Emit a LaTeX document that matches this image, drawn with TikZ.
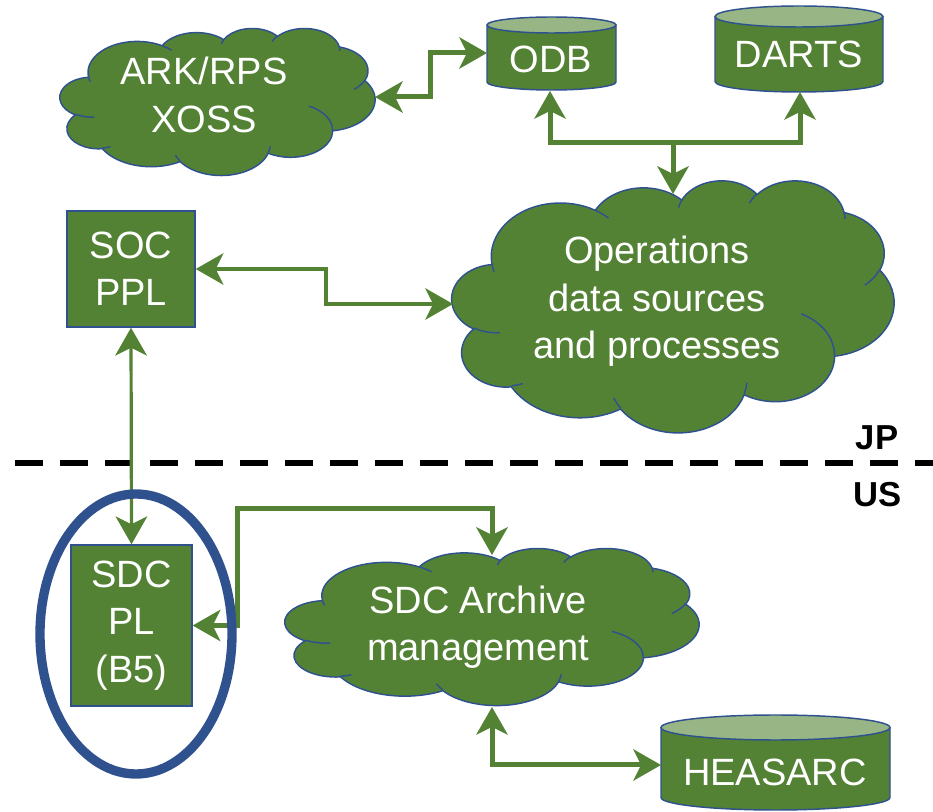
\documentclass[tikz,border=0pt]{standalone}
\usepackage{fontspec}
\setmainfont{Liberation Sans}
\usetikzlibrary{arrows.meta}

\definecolor{pgreen}{RGB}{84,130,53}
\definecolor{plight}{RGB}{152,181,133}
\definecolor{pblue}{RGB}{47,82,143}

\tikzset{
  outl/.style={draw=pblue, line width=1.1pt},
  conn/.style={draw=pgreen, line width=3.75pt,
    >={Stealth[length=21pt,width=24pt,inset=6pt,line width=0pt]}},
  thinconn/.style={conn, line width=2.4pt},
  txt/.style={text=white, font=\fontsize{28.5}{35.5}\selectfont, align=center, inner sep=0pt},
  boxnode/.style={outl, fill=pgreen, text=white, font=\fontsize{28.5}{35.5}\selectfont, align=center, inner sep=0pt},
  region/.style={font=\bfseries\fontsize{26}{30}\selectfont, inner sep=0pt},
}

% PowerPoint-like cloud: x y w h (px, top-left corner)
\newcommand\pptcloud[4]{%
  \pgfmathsetmacro\pcx{#3*0.75/432}%
  \pgfmathsetmacro\pcy{#4*0.75/432}%
  \begin{scope}[shift={(#1,#2)},x={(\pcx pt,0pt)},y={(0pt,-\pcy pt)}]
    \path[outl, fill=pgreen] (39.00,143.70)
      arc[start angle=-187.745, end angle=-59.636, x radius=67.53, y radius=91.90]
      arc[start angle=-152.024, end angle=-45.453, x radius=53.33, y radius=72.67]
      arc[start angle=-153.485, end angle=-37.329, x radius=43.65, y radius=59.45]
      arc[start angle=-139.715, end angle=-10.212, x radius=48.57, y radius=65.95]
      arc[start angle=-74.768, end angle=23.213, x radius=53.33, y radius=72.73]
      arc[start angle=-37.528, end angle=81.863, x radius=67.75, y radius=92.20]
      arc[start angle=0.460, end angle=121.976, x radius=57.85, y radius=78.67]
      arc[start angle=16.845, end angle=146.248, x radius=67.52, y radius=92.15]
      arc[start angle=58.984, end angle=150.203, x radius=77.20, y radius=105.43]
      arc[start angle=-276.694, end angle=-136.872, x radius=43.60, y radius=59.18]
      arc[start angle=-239.648, end angle=-95.887, x radius=43.45, y radius=59.45]
      -- cycle;
    \draw[outl]
      (46.93,261.77) arc[start angle=85.547, end angle=120.352, x radius=43.45, y radius=59.45]
      (69.28,348.99) arc[start angle=68.236, end angle=83.306, x radius=43.60, y radius=59.18]
      (164.78,390.90) arc[start angle=146.248, end angle=158.473, x radius=67.52, y radius=92.15]
      (288.27,347.51) arc[start angle=4.738, end angle=16.845, x radius=67.52, y radius=92.15]
      (341.29,229.54) arc[start angle=-64.028, end angle=0.460, x radius=57.85, y radius=78.67]
      (417.98,153.54) arc[start angle=23.213, end angle=49.650, x radius=53.33, y radius=72.73]
      (383.24,54.26) arc[start angle=-10.212, end angle=0.821, x radius=48.57, y radius=65.95]
      (290.78,39.52) arc[start angle=-156.286, end angle=-139.715, x radius=48.57, y radius=65.95]
      (221.41,47.20) arc[start angle=-167.726, end angle=-153.485, x radius=43.65, y radius=59.45]
      (140.00,51.92) arc[start angle=-59.636, end angle=-45.733, x radius=67.53, y radius=91.90]
      (41.27,157.89) arc[start angle=163.193, end angle=172.255, x radius=67.53, y radius=91.90];
  \end{scope}}

% cylinder: x1 y1 x2 y2 ry (px)
\newcommand\pptcyl[5]{%
  \pgfmathsetmacro\cylrx{(#3-#1)/2}%
  \pgfmathsetmacro\cylcx{(#3+#1)/2}%
  \path[outl, fill=pgreen] (#1,#2+#5) -- (#1,#4-#5)
    arc[start angle=180, end angle=0, x radius=\cylrx, y radius=#5] -- (#3,#2+#5);
  \path[outl, fill=plight] (\cylcx,#2+#5) ellipse [x radius=\cylrx, y radius=#5];
}

\begin{document}
\begin{tikzpicture}[x=0.75pt, y=-0.75pt]
\useasboundingbox (0,0) rectangle (933,812);

% ---- shapes ----
\pptcloud{60}{28}{315}{147}
\pptcloud{452}{180}{442}{252}
\pptcloud{285}{548}{414}{157}
\pptcyl{487}{17}{616}{90}{8}
\pptcyl{715}{6}{883}{92}{10.5}
\pptcyl{661}{715}{890}{810}{12.5}

% ---- text / nodes ----
\node[txt] (ark) at (204,95) {ARK/RPS\\XOSS};
\node[txt] (ops) at (657,301.5) {Operations\\data sources\\and processes};
\node[txt] (arch) at (478,627) {SDC Archive\\management};
\node[txt, anchor=base] (odb) at (551,73) {ODB};
\node[txt, anchor=base] (darts) at (799,68) {DARTS};
\node[txt, anchor=base] (hea) at (775,786) {HEASARC};
\node[boxnode, minimum width=96pt, minimum height=87pt] (soc) at (131,269) {SOC\\PPL};
\node[boxnode, minimum width=90.75pt, minimum height=120.75pt] (sdc) at (131.5,625.5) {SDC\\PL\\(B5)};
\node[region, anchor=base] (jp) at (877,450) {JP};
\node[region, anchor=base] (us) at (878,507) {US};

% ---- connection points ----
\coordinate (arkE) at (375,97);
\coordinate (odbW) at (487,53);
\coordinate (odbS) at (550,91);
\coordinate (dartsS) at (800,92);
\coordinate (jn) at (673,143);
\coordinate (opsN) at (673,194);
\coordinate (opsW) at (453,304);
\coordinate (arcN) at (492,555);
\coordinate (arcS) at (492,707);
\coordinate (heaW) at (661,765);

% ---- border line ----
\draw[line width=4pt, dash pattern=on 21pt off 12.75pt] (15,463) -- (933,463);

% ---- connectors ----
\draw[conn, <->] (odbW) -- ++(-57,0) |- (arkE);
\draw[conn, <->] (odbS) |- (jn) -| (dartsS);
\draw[conn, ->] (jn) -- (opsN);
\draw[conn, line width=3.2pt, <->] (soc.east) -- ++(130,0) |- (opsW);
\draw[thinconn, <->] (soc.south) -- (sdc.north);
\draw[conn, <->] (sdc.east) -- ++(45,0) -- ++(0,-117) -| (arcN);
\draw[conn, <->] (arcS) |- (heaW);

% ---- highlight ellipse ----
\draw[draw=pblue, line width=7pt] (136,634) ellipse [x radius=96, y radius=140];
\end{tikzpicture}
\end{document}
